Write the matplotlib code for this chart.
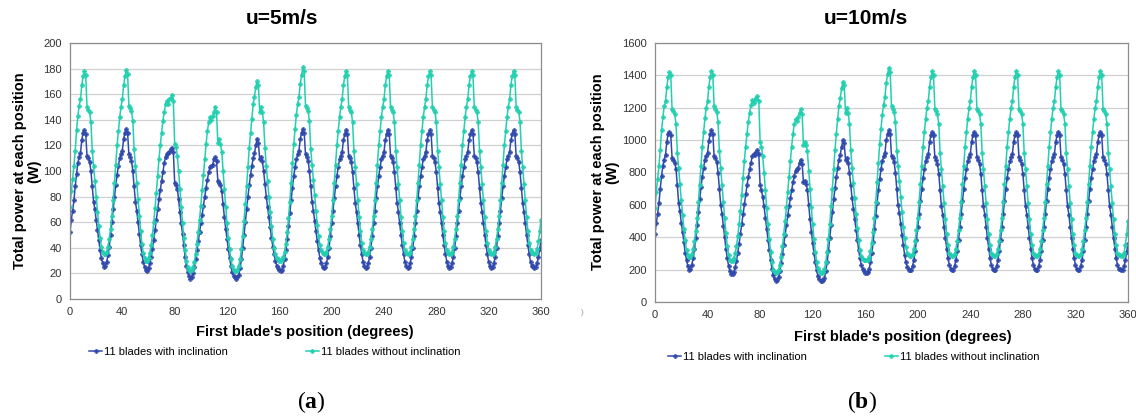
import matplotlib
matplotlib.use('Agg')
import matplotlib.pyplot as plt
import numpy as np

plt.rcParams['font.family'] = ['Liberation Sans', 'DejaVu Sans']
plt.rcParams['mathtext.fontset'] = 'custom'
plt.rcParams['mathtext.rm'] = 'Liberation Serif'
plt.rcParams['mathtext.bf'] = 'Liberation Serif:bold'

# first blade position, 1 degree steps
degrees = np.arange(0, 361)

# u = 5 m/s
with_incl_5 = [
    52, 62, 69, 77, 88, 98, 106, 111, 114, 124, 130, 132,
    129, 112, 110, 107, 100, 88, 76, 70, 62, 54, 46, 38, 32, 28,
    25, 26, 29, 34, 41, 50, 60, 70, 80, 89, 97, 104, 110, 113, 116, 125, 130, 133,
    130, 113, 111, 108, 100, 88, 76, 69, 60, 51, 42, 35, 29, 25,
    23, 22, 24, 28, 33, 39, 46, 54, 62, 70, 78, 85, 92, 99, 106, 111, 113, 114, 115, 117, 118,
    115, 91, 89, 86, 78, 68, 59, 51, 42, 33, 26, 21, 18,
    16, 17, 20, 25, 31, 38, 45, 52, 59, 66, 73, 80, 87, 93, 99, 103, 104, 105, 109, 111,
    108, 92, 91, 89, 84, 74, 64, 55, 47, 39, 32, 26, 21, 18, 17,
    16, 17, 19, 24, 31, 40, 50, 60, 70, 80, 89, 97, 104, 110, 114, 120, 125,
    122, 109, 111, 108, 100, 90, 80, 72, 64, 56, 48, 41, 35, 30, 26, 24, 23,
    22, 23, 26, 31, 38, 47, 57, 67, 77, 87, 96, 103, 109, 113, 116, 125, 130, 133,
    130, 113, 111, 108, 100, 88, 76, 69, 61, 53, 45, 38, 32, 28, 25,
    24, 25, 28, 33, 40, 49, 59, 69, 79, 88, 96, 103, 109, 112, 115, 124, 129, 132,
    129, 112, 110, 107, 99, 87, 75, 68, 59, 50, 42, 35, 29, 26,
    24, 25, 28, 33, 40, 49, 59, 69, 79, 88, 96, 103, 109, 112, 115, 124, 129, 132,
    129, 112, 110, 107, 99, 87, 75, 68, 59, 50, 42, 35, 29, 26,
    24, 25, 28, 33, 40, 49, 59, 69, 79, 88, 96, 103, 109, 112, 115, 124, 129, 132,
    129, 112, 110, 107, 99, 87, 75, 68, 59, 50, 42, 35, 29, 26,
    24, 25, 28, 33, 40, 49, 59, 69, 79, 88, 96, 103, 109, 112, 115, 124, 129, 132,
    129, 112, 110, 107, 99, 87, 75, 68, 59, 50, 42, 35, 29, 26,
    24, 25, 28, 33, 40, 49, 59, 69, 79, 88, 96, 103, 109, 112, 115, 124, 129, 132,
    129, 112, 110, 107, 99, 87, 75, 68, 59, 50, 42, 35, 29, 26,
    26, 24, 25, 28, 33, 39, 46,
]
without_incl_5 = [
    72, 84, 94, 104, 116, 132, 143, 151, 156, 167, 174, 178,
    175, 150, 148, 146, 138, 116, 104, 92, 80, 68, 57, 48, 41, 37,
    35, 35, 37, 41, 47, 55, 65, 77, 91, 105, 120, 131, 142, 150, 156, 167, 174, 179,
    176, 151, 149, 147, 139, 117, 104, 91, 78, 65, 53, 43, 36, 32,
    30, 30, 32, 36, 42, 50, 60, 71, 83, 96, 109, 120, 130, 139, 146, 152, 155, 152, 156, 157, 159,
    155, 121, 119, 112, 100, 86, 72, 59, 48, 38, 30, 25, 23,
    22, 23, 25, 29, 35, 43, 52, 62, 73, 85, 97, 109, 121, 131, 138, 142, 140, 143, 146, 150,
    146, 122, 125, 121, 115, 100, 86, 72, 59, 48, 39, 31, 26, 23, 22,
    22, 23, 26, 31, 39, 49, 61, 74, 88, 103, 118, 130, 141, 152, 158, 166, 170,
    167, 146, 150, 146, 138, 118, 104, 92, 80, 68, 57, 47, 40, 35, 32, 31, 30,
    30, 31, 33, 37, 43, 52, 63, 76, 91, 106, 121, 133, 144, 152, 158, 168, 175, 181,
    178, 151, 149, 147, 139, 117, 105, 93, 81, 69, 58, 49, 42, 38, 36,
    35, 35, 37, 41, 47, 55, 65, 77, 91, 105, 120, 131, 142, 150, 156, 167, 174, 178,
    175, 150, 148, 146, 138, 116, 103, 90, 77, 64, 53, 44, 38, 36,
    35, 35, 37, 41, 47, 55, 65, 77, 91, 105, 120, 131, 142, 150, 156, 167, 174, 178,
    175, 150, 148, 146, 138, 116, 103, 90, 77, 64, 53, 44, 38, 36,
    35, 35, 37, 41, 47, 55, 65, 77, 91, 105, 120, 131, 142, 150, 156, 167, 174, 178,
    175, 150, 148, 146, 138, 116, 103, 90, 77, 64, 53, 44, 38, 36,
    35, 35, 37, 41, 47, 55, 65, 77, 91, 105, 120, 131, 142, 150, 156, 167, 174, 178,
    175, 150, 148, 146, 138, 116, 103, 90, 77, 64, 53, 44, 38, 36,
    35, 35, 37, 41, 47, 55, 65, 77, 91, 105, 120, 131, 142, 150, 156, 167, 174, 178,
    175, 150, 148, 146, 138, 116, 103, 90, 77, 64, 53, 44, 38, 36,
    36, 35, 36, 39, 45, 53, 62,
]

# u = 10 m/s
with_incl_10 = [
    420, 490, 545, 610, 700, 780, 840, 880, 910, 990, 1040, 1050,
    1030, 890, 880, 860, 820, 720, 610, 560, 490, 430, 370, 300, 260, 220,
    200, 205, 230, 270, 325, 395, 475, 555, 635, 710, 775, 830, 880, 905, 920, 995, 1040, 1060,
    1040, 900, 890, 865, 800, 700, 600, 545, 470, 400, 330, 270, 225, 190,
    175, 172, 185, 215, 255, 305, 360, 420, 480, 545, 605, 665, 720, 770, 820, 860, 900, 915, 910, 925, 940,
    915, 720, 690, 650, 590, 520, 450, 385, 320, 260, 205, 165, 140,
    130, 135, 155, 190, 240, 295, 355, 415, 475, 535, 590, 640, 690, 740, 780, 810, 820, 830, 860, 880,
    850, 740, 750, 730, 690, 600, 510, 435, 365, 300, 245, 195, 160, 140, 132,
    130, 135, 150, 190, 245, 315, 395, 475, 555, 635, 705, 770, 830, 880, 910, 960, 1000,
    980, 880, 890, 860, 800, 720, 640, 575, 510, 445, 380, 320, 270, 230, 205, 190, 182,
    180, 185, 205, 245, 300, 370, 450, 530, 610, 690, 760, 820, 870, 900, 920, 1000, 1040, 1060,
    1040, 900, 890, 865, 800, 700, 600, 550, 480, 415, 350, 290, 245, 215, 200,
    198, 200, 220, 260, 315, 385, 465, 545, 625, 700, 765, 820, 870, 895, 915, 990, 1030, 1050,
    1030, 895, 880, 855, 790, 690, 590, 540, 465, 395, 330, 270, 230, 205,
    198, 200, 220, 260, 315, 385, 465, 545, 625, 700, 765, 820, 870, 895, 915, 990, 1030, 1050,
    1030, 895, 880, 855, 790, 690, 590, 540, 465, 395, 330, 270, 230, 205,
    198, 200, 220, 260, 315, 385, 465, 545, 625, 700, 765, 820, 870, 895, 915, 990, 1030, 1050,
    1030, 895, 880, 855, 790, 690, 590, 540, 465, 395, 330, 270, 230, 205,
    198, 200, 220, 260, 315, 385, 465, 545, 625, 700, 765, 820, 870, 895, 915, 990, 1030, 1050,
    1030, 895, 880, 855, 790, 690, 590, 540, 465, 395, 330, 270, 230, 205,
    198, 200, 220, 260, 315, 385, 465, 545, 625, 700, 765, 820, 870, 895, 915, 990, 1030, 1050,
    1030, 895, 880, 855, 790, 690, 590, 540, 465, 395, 330, 270, 230, 205,
    205, 198, 200, 220, 260, 310, 360,
]
without_incl_10 = [
    580, 680, 760, 840, 940, 1060, 1140, 1210, 1240, 1330, 1390, 1420,
    1400, 1190, 1180, 1160, 1100, 920, 830, 730, 630, 540, 450, 380, 320, 290,
    280, 280, 295, 325, 375, 440, 520, 615, 725, 840, 960, 1050, 1135, 1200, 1240, 1330, 1390, 1430,
    1405, 1210, 1195, 1175, 1110, 930, 830, 725, 620, 520, 425, 345, 290, 262,
    255, 255, 270, 300, 345, 405, 480, 565, 660, 765, 870, 960, 1040, 1110, 1170, 1215, 1245, 1230, 1250, 1260, 1270,
    1240, 990, 960, 900, 800, 690, 580, 480, 390, 310, 245, 200, 185,
    180, 185, 200, 230, 280, 345, 420, 500, 585, 680, 775, 870, 960, 1040, 1100, 1130, 1120, 1145, 1170, 1190,
    1160, 970, 990, 970, 930, 810, 700, 585, 480, 390, 310, 250, 210, 190, 182,
    180, 185, 205, 250, 310, 390, 480, 590, 700, 820, 940, 1040, 1130, 1210, 1260, 1320, 1360,
    1340, 1170, 1200, 1170, 1100, 940, 830, 735, 640, 545, 460, 380, 320, 285, 268, 262, 260,
    260, 262, 280, 315, 365, 435, 520, 620, 740, 860, 975, 1070, 1155, 1220, 1265, 1350, 1410, 1445,
    1420, 1210, 1195, 1175, 1110, 935, 840, 745, 650, 555, 465, 395, 340, 305, 288,
    283, 283, 298, 328, 378, 442, 522, 618, 728, 842, 960, 1048, 1132, 1198, 1240, 1330, 1390, 1425,
    1400, 1195, 1180, 1160, 1100, 920, 820, 715, 610, 510, 420, 350, 300, 288,
    283, 283, 298, 328, 378, 442, 522, 618, 728, 842, 960, 1048, 1132, 1198, 1240, 1330, 1390, 1425,
    1400, 1195, 1180, 1160, 1100, 920, 820, 715, 610, 510, 420, 350, 300, 288,
    283, 283, 298, 328, 378, 442, 522, 618, 728, 842, 960, 1048, 1132, 1198, 1240, 1330, 1390, 1425,
    1400, 1195, 1180, 1160, 1100, 920, 820, 715, 610, 510, 420, 350, 300, 288,
    283, 283, 298, 328, 378, 442, 522, 618, 728, 842, 960, 1048, 1132, 1198, 1240, 1330, 1390, 1425,
    1400, 1195, 1180, 1160, 1100, 920, 820, 715, 610, 510, 420, 350, 300, 288,
    283, 283, 298, 328, 378, 442, 522, 618, 728, 842, 960, 1048, 1132, 1198, 1240, 1330, 1390, 1425,
    1400, 1195, 1180, 1160, 1100, 920, 820, 715, 610, 510, 420, 350, 300, 288,
    288, 283, 285, 305, 350, 420, 500,
]

labels = ['11 blades with inclination', '11 blades without inclination']
blue = '#3049AC'
teal = '#22D0B0'

W, H = 1136, 416
fig = plt.figure(figsize=(W / 100, H / 100), dpi=100)
ax1 = fig.add_axes([70 / W, 1 - 299 / H, 471 / W, 256 / H])
ax2 = fig.add_axes([655 / W, 1 - 302 / H, 473 / W, 259 / H])


def draw(ax, y1, y2, ymax, ystep, leg_x, leg_y):
    l1, = ax.plot(degrees, y1, color=blue, lw=1.1, marker='P', ms=3.2,
                  mec=blue, mew=0.3, label=labels[0])
    l2, = ax.plot(degrees, y2, color=teal, lw=1.1, marker='P', ms=3.2,
                  mec=teal, mew=0.3, label=labels[1])
    ax.set_xlim(0, 360)
    ax.set_ylim(0, ymax)
    ax.set_xticks(np.arange(0, 361, 40))
    ax.set_yticks(np.arange(0, ymax + 1, ystep))
    ax.yaxis.grid(True, color='#D0D0D0', lw=0.9)
    ax.set_axisbelow(True)
    for s in ax.spines.values():
        s.set_color('#8C8C8C')
        s.set_linewidth(0.9)
    ax.tick_params(axis='both', length=0, labelsize=8, colors='#333333')
    ax.tick_params(axis='x', pad=6)
    ax.tick_params(axis='y', pad=6)
    ax.legend(handles=[l1, l2], loc='center left', bbox_to_anchor=(leg_x / W, 1 - leg_y / H),
              bbox_transform=fig.transFigure, ncol=2, frameon=False, fontsize=8,
              handlelength=1.2, handletextpad=0.15, columnspacing=7.0,
              borderpad=0, borderaxespad=0, numpoints=1)


draw(ax1, with_incl_5, without_incl_5, 200, 20, 89, 352)
draw(ax2, with_incl_10, without_incl_10, 1600, 200, 668, 357)

# titles
fig.text(282 / W, 1 - 19 / H, 'u=5m/s', ha='center', va='center', fontsize=15, fontweight='bold')
fig.text(866 / W, 1 - 19 / H, 'u=10m/s', ha='center', va='center', fontsize=15, fontweight='bold')

# axis labels
ylab = 'Total power at each position\n(W)'
fig.text(27 / W, 1 - 171 / H, ylab, rotation=90, ha='center', va='center',
         fontsize=10.5, fontweight='bold', multialignment='center', linespacing=1.0)
fig.text(605 / W, 1 - 172 / H, ylab, rotation=90, ha='center', va='center',
         fontsize=10.5, fontweight='bold', multialignment='center', linespacing=1.0)
xlab = "First blade's position (degrees)"
fig.text(305 / W, 1 - 332 / H, xlab, ha='center', va='center', fontsize=10.5, fontweight='bold')
fig.text(903 / W, 1 - 337 / H, xlab, ha='center', va='center', fontsize=10.5, fontweight='bold')

# stray mark between the panels
fig.text(582 / W, 1 - 313 / H, ')', ha='center', va='center', fontsize=6, color='#999999')

# panel captions
fig.text(311 / W, 1 - 402 / H, r'$\mathrm{(}\mathbf{a}\mathrm{)}$', ha='center', va='center', fontsize=17)
fig.text(862 / W, 1 - 402 / H, r'$\mathrm{(}\mathbf{b}\mathrm{)}$', ha='center', va='center', fontsize=17)

fig.savefig('out.png', dpi=100)
